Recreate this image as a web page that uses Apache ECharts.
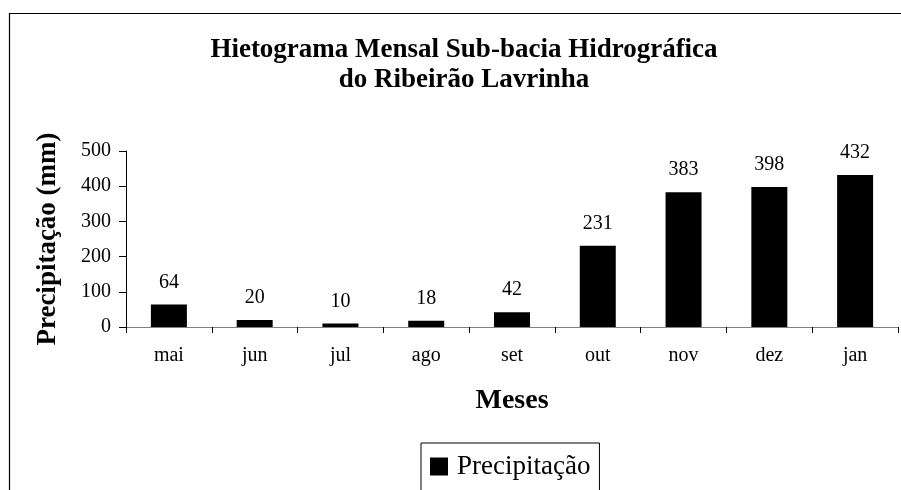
<!DOCTYPE html>
<head>
    <meta charset="utf-8">
    <title>ECharts</title>
    <script src="https://cdn.jsdelivr.net/npm/echarts@6/dist/echarts.min.js"></script>
    <style>
        html, body { margin: 0; padding: 0; background: #fff; }
    </style>
</head>
<body>
    <div id="main" style="width:901px;height:490px"></div>
    <script type="text/javascript">
        // meses (categorias) e precipitação mensal (mm)
        var months = ['mai', 'jun', 'jul', 'ago', 'set', 'out', 'nov', 'dez', 'jan'];
        var precip = [64, 20, 10, 18, 42, 231, 383, 398, 432];
        var yMin = 0, yMax = 500, yStep = 100;

        var serif = '"Liberation Serif", "Times New Roman", serif';

        var myChart = echarts.init(document.getElementById('main'));

        var option = {
            backgroundColor: '#fff',
            animation: false,
            title: {
                text: 'Hietograma Mensal Sub-bacia Hidrográfica\ndo Ribeirão Lavrinha',
                left: 459,
                top: 30,
                textAlign: 'center',
                textStyle: {
                    fontFamily: serif,
                    fontWeight: 'bold',
                    fontSize: 27,
                    lineHeight: 30,
                    color: '#000',
                    align: 'center'
                }
            },
            graphic: [
                {   // moldura do gráfico
                    type: 'rect',
                    silent: true,
                    z: -1,
                    shape: {x: 9.5, y: 13.5, width: 1200, height: 1200},
                    style: {fill: 'none', stroke: '#000', lineWidth: 1.2}
                }
            ],
            legend: {
                data: ['Precipitação'],
                left: 421,
                top: 443,
                icon: 'rect',
                itemWidth: 18,
                itemHeight: 18,
                borderColor: '#000',
                borderWidth: 1,
                padding: [10, 9, 14, 9],
                textStyle: {
                    fontFamily: serif,
                    fontSize: 27,
                    color: '#000',
                    padding: [0, 0, 0, 4]
                }
            },
            grid: {
                left: 126,
                top: 151,
                right: 3,
                bottom: 163,
                containLabel: false
            },
            xAxis: {
                type: 'category',
                data: months,
                name: 'Meses',
                nameLocation: 'middle',
                nameGap: 60,
                nameTextStyle: {
                    fontFamily: serif,
                    fontWeight: 'bold',
                    fontSize: 28,
                    color: '#000'
                },
                axisLine: {lineStyle: {color: '#808080', width: 1}},
                axisTick: {show: true, length: 6, lineStyle: {color: '#000'}},
                axisLabel: {
                    fontFamily: serif,
                    fontSize: 20,
                    color: '#000',
                    margin: 19
                },
                splitLine: {show: false}
            },
            yAxis: {
                type: 'value',
                min: yMin,
                max: yMax,
                interval: yStep,
                name: 'Precipitação (mm)',
                nameLocation: 'middle',
                nameGap: 64,
                nameTextStyle: {
                    fontFamily: serif,
                    fontWeight: 'bold',
                    fontSize: 27,
                    color: '#000'
                },
                axisLine: {show: true, lineStyle: {color: '#000', width: 1}},
                axisTick: {show: true, length: 7, lineStyle: {color: '#000'}},
                axisLabel: {
                    fontFamily: serif,
                    fontSize: 20,
                    color: '#000',
                    margin: 15
                },
                splitLine: {show: false}
            },
            series: [
                {
                    name: 'Precipitação',
                    type: 'bar',
                    data: precip,
                    barWidth: 36,
                    itemStyle: {color: '#000'},
                    label: {
                        show: true,
                        position: 'top',
                        distance: 12,
                        fontFamily: serif,
                        fontSize: 20,
                        color: '#000'
                    }
                }
            ]
        };

        myChart.setOption(option);
    </script>
</body>
